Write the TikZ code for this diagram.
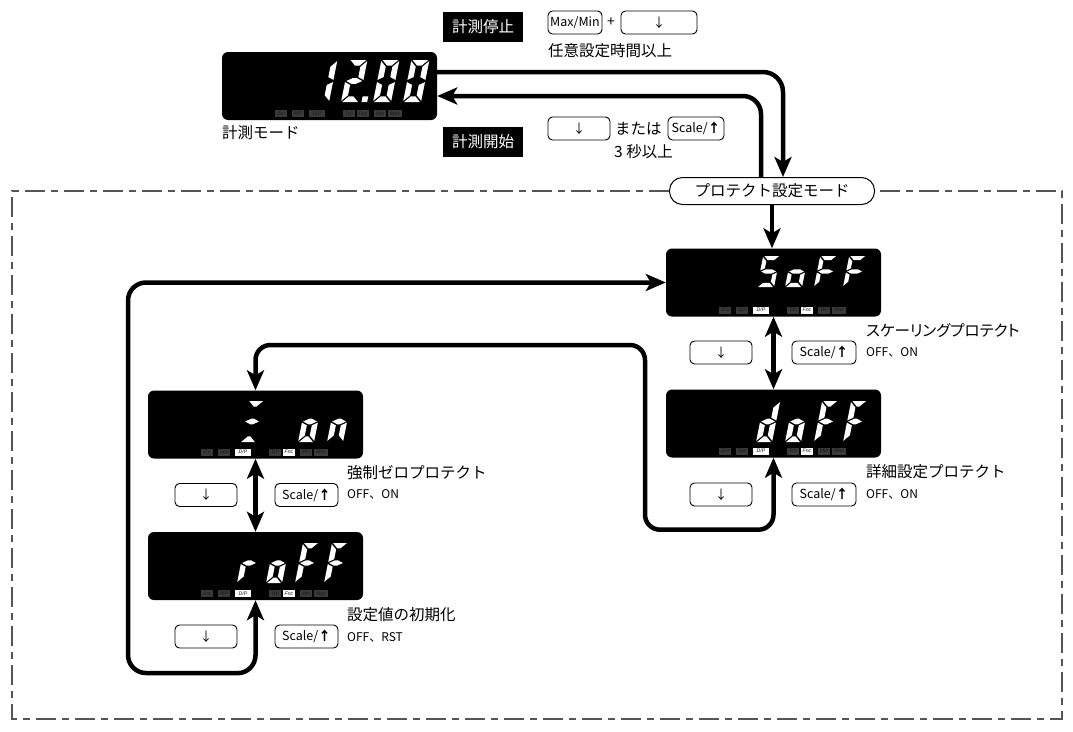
\documentclass[tikz,border=0pt]{standalone}
\usepackage{fontspec}
\setmainfont{Noto Sans CJK JP}
\newfontfamily\lblfont{Liberation Sans}
\usetikzlibrary{arrows.meta}
\definecolor{indgray}{HTML}{3A3A3A}
\definecolor{framegray}{HTML}{555555}
\def\G{1.1}
\def\DP{D/P}
% seven segment pieces (local frame: origin bottom-left, y up)
\newcommand\sga{\fill[seg] (\G,\H) -- (\W-\G,\H) -- (\W-\G-\T,\H-\T) -- (\G+\T,\H-\T) -- cycle;}
\newcommand\sgd{\fill[seg] (\G,0) -- (\W-\G,0) -- (\W-\G-\T,\T) -- (\G+\T,\T) -- cycle;}
\newcommand\sgb{\fill[seg] (\W,\H-\G) -- (\W,\M+\G) -- (\W-\T,\M+\G+\T/2) -- (\W-\T,\H-\G-\T) -- cycle;}
\newcommand\sgc{\fill[seg] (\W,\G) -- (\W,\M-\G) -- (\W-\T,\M-\G-\T/2) -- (\W-\T,\G+\T) -- cycle;}
\newcommand\sgf{\fill[seg] (0,\H-\G) -- (0,\M+\G) -- (\T,\M+\G+\T/2) -- (\T,\H-\G-\T) -- cycle;}
\newcommand\sge{\fill[seg] (0,\G) -- (0,\M-\G) -- (\T,\M-\G-\T/2) -- (\T,\G+\T) -- cycle;}
\newcommand\sgg{\fill[seg] (\G,\M) -- (\G+\T,\M+\T/2) -- (\W-\G-\T,\M+\T/2) -- (\W-\G,\M) -- (\W-\G-\T,\M-\T/2) -- (\G+\T,\M-\T/2) -- cycle;}
\newcommand\sgp{\fill[seg] (\W+2.5,0) rectangle (\W+2.5+\T,\T);}
\newcommand\segdigit[5]{%
  \begin{scope}[shift={(#1,#2)},x=1pt,y=1pt,xslant=0.2]
    \pgfmathsetmacro\W{#3}\pgfmathsetmacro\H{#4}%
    \pgfmathsetmacro\T{0.135*#4}\pgfmathsetmacro\M{#4/2}%
    \foreach \s in {#5}{\csname sg\s\endcsname}
  \end{scope}}
% indicator row
\newcommand\indrow[4]{%
  \foreach \nm/\ox/\w/\txt/\fc in {zro/53/12/Zro/indgray, spn/70/12/Spn/indgray, dp/87/16/\DP/#4, tch/121/12/Tch/indgray, fnc/135/12/Fnc/#4, min/152/12/Min/indgray, max/166/14/Max/indgray}
    \node[ind, fill=\fc, minimum width=\w pt] (#1-\nm) at (#2+\ox+\w/2, #3+61.5) {\txt};}
\newcommand\display[4]{%
  \node[dispbox] (#1) at (#2,#3) {};
  \indrow{#1}{#2-107.5}{#3-34}{#4}}
\tikzset{
  seg/.style={fill=white},
  dispbox/.style={fill=black, rounded corners=6pt, minimum width=215pt, minimum height=68pt, inner sep=0pt},
  ind/.style={inner sep=0pt, minimum height=7pt, text=black!90, font=\lblfont\itshape\fontsize{5.2}{5.2}\selectfont},
  btn/.style={draw, line width=0.9pt, rounded corners=4.5pt, fill=white, minimum height=23pt, inner sep=0pt, font=\fontsize{12.5}{12.5}\selectfont},
  blk/.style={fill=black, text=white, minimum width=80pt, minimum height=30pt, inner sep=0pt, font=\fontsize{15.5}{15.5}\selectfont},
  jp/.style={font=\fontsize{15.5}{15.5}\selectfont, inner sep=0pt, anchor=west},
  sm/.style={font=\fontsize{12}{12}\selectfont, inner sep=0pt, anchor=west},
  bigtip/.tip={Stealth[length=20pt,width=17pt,inset=5pt]},
  conn/.style={line width=4.5pt, line join=round, -bigtip},
  conn2/.style={line width=4.5pt, line join=round, bigtip-bigtip},
  oval/.style={draw, line width=1pt, rounded corners=13pt, minimum width=205pt, minimum height=27pt, fill=white, inner sep=0pt, font=\fontsize{15.5}{15.5}\selectfont},
  frame/.style={draw=framegray, line width=1.3pt, dash pattern=on 20pt off 6pt on 7pt off 6pt},
}
\begin{document}
\begin{tikzpicture}[x=1pt,y=-1pt]
\useasboundingbox (0,0) rectangle (1073,731);
% protect-mode oval and frame
\node[oval] (ov) at (772,191) {プロテクト設定モード};
\draw[frame] (ov.west) -- (12,191) -- (12,719) -- (1062,719) -- (1062,191) -- (ov.east);
% displays
\display{d0}{329.5}{86}{indgray}
\display{d1}{773.5}{282.5}{white}
\display{d2}{773.5}{423.5}{white}
\display{d3}{255.5}{424.5}{white}
\display{d4}{255.5}{566}{white}
% digits 12.00
\segdigit{311}{102}{18}{42}{b,c}
\segdigit{341}{102}{18}{42}{a,b,g,e,d,p}
\segdigit{373}{102}{18}{42}{a,b,c,d,e,f}
\segdigit{403}{102}{18}{42}{a,b,c,d,e,f}
% SoFF
\segdigit{757}{287}{17}{31}{a,f,g,c,d}
\segdigit{785}{287}{17}{31}{c,d,e,g}
\segdigit{814}{287}{17}{31}{a,e,f,g}
\segdigit{843}{287}{17}{31}{a,e,f,g}
% doFF
\segdigit{756}{442}{16}{41}{b,c,d,e,g}
\segdigit{785}{442}{16}{41}{c,d,e,g}
\segdigit{814}{442}{16}{41}{a,e,f,g}
\segdigit{843}{442}{16}{41}{a,e,f,g}
% = on
\segdigit{240}{442}{16}{41}{a,g,d}
\segdigit{298}{442}{16}{41}{c,d,e,g}
\segdigit{327}{442}{16}{41}{c,e,g}
% roFF
\segdigit{237}{583}{16}{40}{e,g}
\segdigit{266}{583}{16}{40}{c,d,e,g}
\segdigit{295}{583}{16}{40}{a,e,f,g}
\segdigit{324}{583}{16}{40}{a,e,f,g}
% texts top
\node[jp] (t0) at (222,133) {計測モード};
\node[blk] (stop) at (483,27) {計測停止};
\node[blk] (start) at (483,142) {計測開始};
\node[btn, minimum width=54pt] (bmax) at (575,22.5) {Max/Min};
\node[font=\fontsize{14}{14}\selectfont, inner sep=0pt] (plus) at (611,22.5) {+};
\node[btn, minimum width=76pt] (bdt) at (659,22.5) {↓};
\node[jp] (t1) at (548,51) {任意設定時間以上};
\node[btn, minimum width=62pt] (bdm) at (579,128.5) {↓};
\node[jp] (t2) at (615,128.5) {または};
\node[btn, minimum width=56pt] (bst) at (696,128.5) {Scale/{\bfseries ↑}};
\node[jp] (t3) at (614,152) {3 秒以上};
% buttons lower
\node[btn, minimum width=62pt] (bd1) at (721,352.5) {↓};
\node[btn, minimum width=64pt] (bs1) at (824,352.5) {Scale/{\bfseries ↑}};
\node[btn, minimum width=62pt] (bd2) at (721,494.5) {↓};
\node[btn, minimum width=64pt] (bs2) at (824,494.5) {Scale/{\bfseries ↑}};
\node[btn, minimum width=62pt] (bd3) at (206,495) {↓};
\node[btn, minimum width=63pt] (bs3) at (306.5,495) {Scale/{\bfseries ↑}};
\node[btn, minimum width=62pt] (bd4) at (206,636.5) {↓};
\node[btn, minimum width=63pt] (bs4) at (306.5,636.5) {Scale/{\bfseries ↑}};
% labels
\node[jp, font=\fontsize{15.5}{15.5}\selectfont\addfontfeatures{RawFeature=+palt}] (l1) at (866,331) {スケーリングプロテクト};
\node[sm] (l1b) at (866,352) {OFF、ON};
\node[jp] (l2) at (866,472) {詳細設定プロテクト};
\node[sm] (l2b) at (866,494) {OFF、ON};
\node[jp] (l3) at (347,473) {強制ゼロプロテクト};
\node[sm] (l3b) at (347,494) {OFF、ON};
\node[jp] (l4) at (347,615) {設定値の初期化};
\node[sm] (l4b) at (347,637) {OFF、RST};
% connectors
\draw[conn, rounded corners=20pt] ([yshift=14pt]d0.east) -| ([xshift=11pt]ov.north);
\draw[conn, rounded corners=18pt] ([xshift=-11pt]ov.north) |- ([yshift=-10pt]d0.east);
\draw[conn] (ov.south) -- (ov.south |- d1.north);
\draw[conn2] (d1.south) -- (d2.north);
\draw[conn2, rounded corners=15pt] (d2.south) -- ++(0,72) -| (645,345) -| (d3.north);
\draw[conn2] (d3.south) -- (d4.north);
\draw[conn2, rounded corners=18pt] (d4.south) -- ++(0,73) -- (128,673) -- (128,282.5) -- (d1.west);
\end{tikzpicture}
\end{document}
